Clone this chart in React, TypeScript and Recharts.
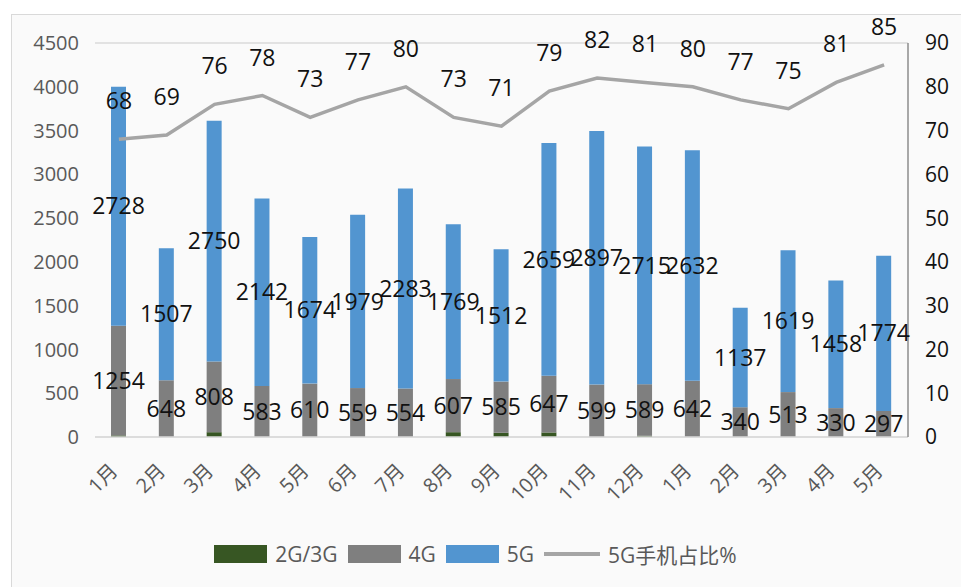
import React from "react";
import { Bar, CartesianGrid, ComposedChart, LabelList, Legend, Line, XAxis, YAxis } from "recharts";

const months = ["1月", "2月", "3月", "4月", "5月", "6月", "7月", "8月", "9月", "10月", "11月", "12月", "1月", "2月", "3月", "4月", "5月"];
const g23 = [18, 0, 55, 0, 0, 0, 0, 55, 48, 52, 0, 14, 0, 0, 0, 0, 0];
const g4 = [1254, 648, 808, 583, 610, 559, 554, 607, 585, 647, 599, 589, 642, 340, 513, 330, 297];
const g5 = [2728, 1507, 2750, 2142, 1674, 1979, 2283, 1769, 1512, 2659, 2897, 2715, 2632, 1137, 1619, 1458, 1774];
const share = [68, 69, 76, 78, 73, 77, 80, 73, 71, 79, 82, 81, 80, 77, 75, 81, 85];
const leftTicks = [0, 500, 1000, 1500, 2000, 2500, 3000, 3500, 4000, 4500];
const rightTicks = [0, 10, 20, 30, 40, 50, 60, 70, 80, 90];

const data = months.map((m, i) => ({ idx: i, month: m, g23: g23[i], g4: g4[i], g5: g5[i], share: share[i] }));

const FONT = "'Open Sans', 'Noto Sans CJK SC', sans-serif";
const C_GREEN = "#375623";
const C_GRAY = "#7f7f7f";
const C_BLUE = "#5295d0";
const C_LINE = "#a5a5a5";

const MonthTick = (props: any) => {
  const { x, y, payload } = props;
  return (
    <g transform={`translate(${x},${y + 27})`}>
      <text x={0} y={0} textAnchor="end" transform="rotate(-45)" fill="#595959" fontSize={20} fontFamily={FONT}>
        {months[payload.value]}
      </text>
    </g>
  );
};

const ShareLabel = (props: any) => {
  const { x, y, value } = props;
  return (
    <text x={x} y={y - 30} textAnchor="middle" fill="#111" fontSize={23} fontFamily={FONT}>
      {value}
    </text>
  );
};

const legendItems = [
  { label: "2G/3G", color: C_GREEN, kind: "rect" },
  { label: "4G", color: C_GRAY, kind: "rect" },
  { label: "5G", color: C_BLUE, kind: "rect" },
  { label: "5G手机占比%", color: C_LINE, kind: "line" },
];

const LegendBox = () => (
  <div style={{ display: "flex", justifyContent: "center", alignItems: "center", fontFamily: FONT, fontSize: 21, color: "#595959" }}>
    {legendItems.map((it) => (
      <div key={it.label} style={{ display: "flex", alignItems: "center", marginRight: 10 }}>
        {it.kind === "rect" ? (
          <div style={{ width: 53, height: 18, background: it.color, marginRight: 8 }} />
        ) : (
          <div style={{ width: 56, height: 4, background: it.color, marginRight: 8 }} />
        )}
        <span>{it.label}</span>
      </div>
    ))}
  </div>
);

export default function App() {
  return (
    <div style={{ position: "absolute", left: 0, top: 0, width: 961, height: 587, background: "#fff" }}>
      <div style={{ position: "absolute", left: 11, top: 14, width: 952, height: 573, border: "1px solid #d9d9d9", background: "#fafafa" }} />
      <div style={{ position: "absolute", left: 0, top: 0 }}>
        <ComposedChart width={961} height={587} data={data} margin={{ top: 43, right: 8, left: 10, bottom: 72 }} barSize={15}>
          <CartesianGrid stroke="#dadada" strokeWidth={1.5} vertical={false} />
          <XAxis dataKey="idx" type="category" interval={0} tick={<MonthTick />} tickLine={false} axisLine={{ stroke: "#dadada", strokeWidth: 1.5 }} height={78} />
          <YAxis
            yAxisId="left" domain={[0, 4500]} ticks={leftTicks} width={85}
            tick={{ fill: "#595959", fontSize: 20, fontFamily: FONT }}
            tickLine={false} axisLine={false} tickSize={8} tickMargin={8}
          />
          <YAxis
            yAxisId="right" orientation="right" domain={[0, 90]} ticks={rightTicks} width={45}
            tick={{ fill: "#111", fontSize: 21, fontFamily: FONT, textAnchor: "start" }}
            tickLine={false} axisLine={{ stroke: "#8c8c8c", strokeWidth: 1.5 }} tickSize={8} tickMargin={9}
          />
          <Bar yAxisId="left" dataKey="g23" stackId="a" fill={C_GREEN} isAnimationActive={false} />
          <Bar yAxisId="left" dataKey="g4" stackId="a" fill={C_GRAY} isAnimationActive={false}>
            <LabelList dataKey="g4" position="center" fill="#111" fontSize={23} fontFamily={FONT} />
          </Bar>
          <Bar yAxisId="left" dataKey="g5" stackId="a" fill={C_BLUE} isAnimationActive={false}>
            <LabelList dataKey="g5" position="center" fill="#111" fontSize={23} fontFamily={FONT} />
          </Bar>
          <Line yAxisId="right" dataKey="share" stroke={C_LINE} strokeWidth={3.5} dot={false} isAnimationActive={false}>
            <LabelList dataKey="share" content={<ShareLabel />} />
          </Line>
          <Legend layout="horizontal" verticalAlign="middle" content={<LegendBox />} wrapperStyle={{ top: 539, left: 0, width: 961 }} />
        </ComposedChart>
      </div>
    </div>
  );
}
